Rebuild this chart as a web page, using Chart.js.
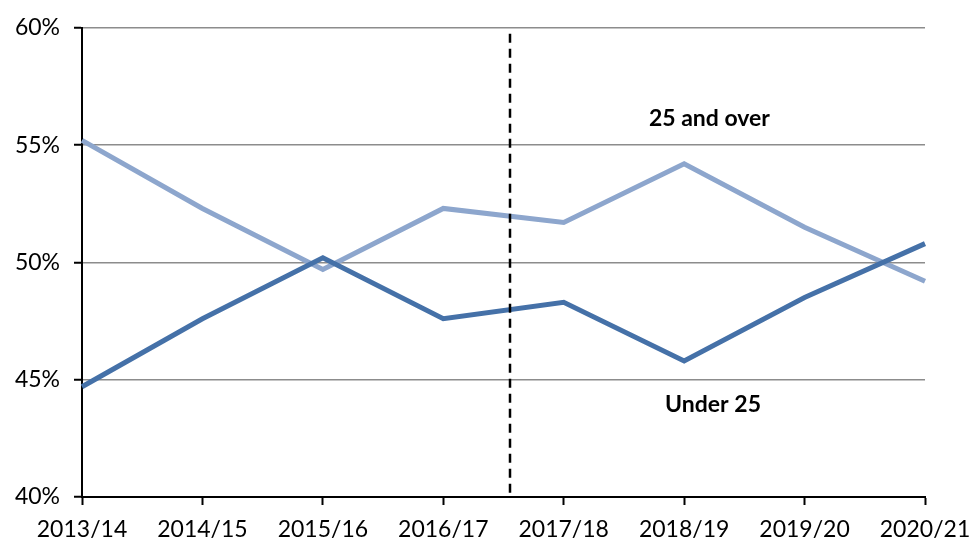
<!DOCTYPE html>
<html>
<head>
<meta charset="utf-8">
<script src="https://cdn.jsdelivr.net/npm/chart.js@4"></script>
<style>
  html, body { margin: 0; padding: 0; background: #fff; }
  #wrap { width: 973px; height: 543px; }
</style>
</head>
<body>
<div id="wrap"><canvas id="ageChart"></canvas></div>
<script>
const years = ['2013/14', '2014/15', '2015/16', '2016/17', '2017/18', '2018/19', '2019/20', '2020/21']
const under25 = [44.7, 47.6, 50.2, 47.6, 48.3, 45.8, 48.5, 50.8]
const over25 = [55.2, 52.3, 49.7, 52.3, 51.7, 54.2, 51.5, 49.2]
const yTicks = [40, 45, 50, 55, 60]

// where the dashed break line goes (between 2016/17 and 2017/18)
const breakAt = 3.55
// series labels drawn on the plot: [text, category position, value]
const seriesLabels = [
  ['25 and over', 5.21, 56.15],
  ['Under 25', 5.24, 43.95]
]

const extras = {
  id: 'extras',
  afterDatasetsDraw(chart) {
    const { ctx, chartArea, scales: { x, y } } = chart
    const px = Math.round(x.getPixelForValue(breakAt))
    ctx.save()
    ctx.strokeStyle = '#000'
    ctx.lineWidth = 2.5
    ctx.setLineDash([9, 6])
    ctx.beginPath()
    ctx.moveTo(px, chartArea.top + 6)
    ctx.lineTo(px, chartArea.bottom - 4)
    ctx.stroke()
    ctx.restore()

    ctx.save()
    ctx.fillStyle = '#000'
    ctx.font = 'bold 23px Lato'
    ctx.textAlign = 'center'
    ctx.textBaseline = 'middle'
    seriesLabels.forEach(([txt, xi, yv]) => {
      ctx.fillText(txt, x.getPixelForValue(xi), y.getPixelForValue(yv))
    })
    ctx.restore()
  }
}

const ctx1 = document.getElementById('ageChart')

let config1 = {
  type: 'line',
  data: {
    labels: years,
    datasets: [{
      label: 'Under 25',
      data: under25,
      borderColor: '#4571a8',
      borderWidth: 5,
      pointRadius: 0,
      tension: 0,
      fill: false
    }, {
      label: '25 and over',
      data: over25,
      borderColor: '#8da6cd',
      borderWidth: 5,
      pointRadius: 0,
      tension: 0,
      fill: false
    }]
  },
  options: {
    responsive: true,
    maintainAspectRatio: false,
    animation: false,
    layout: { padding: { top: 27, right: 48, left: 0, bottom: 0 } },
    plugins: {
      legend: { display: false },
      tooltip: { enabled: false }
    },
    scales: {
      x: {
        offset: false,
        border: { color: '#000', width: 2 },
        grid: {
          display: true,
          drawOnChartArea: false,
          drawTicks: true,
          tickLength: 8,
          tickColor: '#000',
          tickWidth: 2
        },
        ticks: {
          color: '#000',
          font: { family: 'Lato', size: 23 },
          padding: 11,
          maxRotation: 0,
          autoSkip: false
        },
        afterFit: scale => {
          scale.height = 46
          scale.paddingLeft = 0
          scale.paddingRight = 0
        }
      },
      y: {
        min: 40,
        max: 60,
        border: { color: '#000', width: 2 },
        grid: {
          color: '#8c8c8c',
          lineWidth: 1.5,
          tickLength: 8,
          tickColor: '#000',
          tickWidth: 2
        },
        afterBuildTicks: scale => {
          scale.ticks = yTicks.map(v => ({ value: v }))
        },
        ticks: {
          color: '#000',
          font: { family: 'Lato', size: 23 },
          padding: 14,
          callback: value => `${value}%`
        },
        afterFit: scale => { scale.width = 82 }
      }
    }
  },
  plugins: [extras]
};
let chartAge = new Chart(ctx1, config1)
</script>
</body>
</html>
